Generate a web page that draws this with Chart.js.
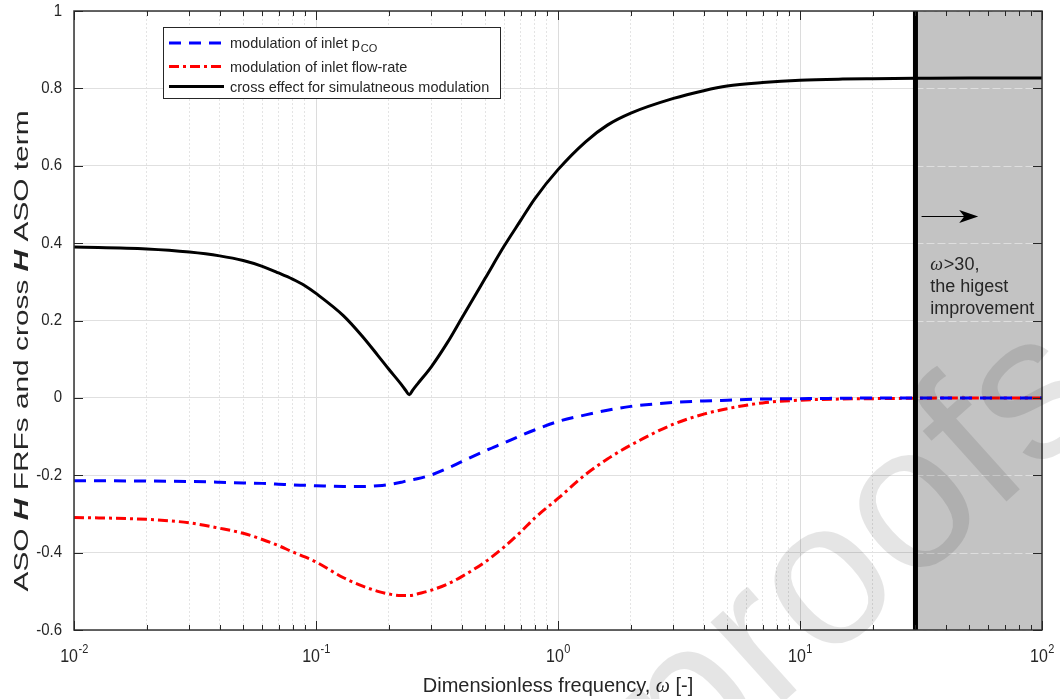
<!DOCTYPE html>
<html>
<head>
<meta charset="utf-8">
<script src="https://cdn.jsdelivr.net/npm/chart.js@4.4.1/dist/chart.umd.min.js"></script>
<style>
  html, body { margin: 0; padding: 0; background: #fff; }
  #wrap { width: 1060px; height: 699px; }
</style>
</head>
<body>
<div id="wrap"><canvas id="chart" width="1060" height="699"></canvas></div>
<script>
// dimensionless frequency (x values shared by the three curves)
const omega = [0.01, 0.02, 0.03, 0.04, 0.05, 0.06, 0.07, 0.08, 0.09, 0.1,
  0.13, 0.155, 0.18, 0.2, 0.225, 0.235, 0.243, 0.251, 0.262, 0.3,
  0.35, 0.4, 0.5, 0.6, 0.7, 0.8, 1, 1.3, 1.6, 2,
  3, 4, 5, 7, 10, 15, 20, 30, 50, 100]

// modulation of inlet pCO
const pcoVals = [-0.214, -0.215, -0.216, -0.218, -0.220, -0.221, -0.223, -0.225, -0.226, -0.227,
  -0.229, -0.229, -0.227, -0.224, -0.218, -0.215, -0.213, -0.211, -0.209, -0.199,
  -0.182, -0.165, -0.137, -0.116, -0.098, -0.083, -0.061, -0.044, -0.032, -0.022,
  -0.012, -0.008, -0.006, -0.003, -0.002, -0.001, 0, 0, 0, 0]

// modulation of inlet flow-rate
const flowVals = [-0.309, -0.314, -0.323, -0.337, -0.350, -0.366, -0.382, -0.398, -0.411, -0.424,
  -0.465, -0.486, -0.500, -0.507, -0.511, -0.511, -0.511, -0.510, -0.507, -0.497,
  -0.481, -0.462, -0.424, -0.385, -0.347, -0.311, -0.260, -0.198, -0.158, -0.122,
  -0.068, -0.042, -0.028, -0.013, -0.006, -0.003, -0.002, -0.001, 0, 0]

// cross effect for simultaneous modulation
const crossVals = [0.390, 0.385, 0.377, 0.367, 0.355, 0.340, 0.323, 0.307, 0.290, 0.270,
  0.212, 0.160, 0.110, 0.074, 0.035, 0.019, 0.008, 0.020, 0.035, 0.081,
  0.144, 0.206, 0.309, 0.393, 0.458, 0.514, 0.590, 0.662, 0.705, 0.736,
  0.774, 0.794, 0.806, 0.815, 0.821, 0.824, 0.825, 0.826, 0.827, 0.827]

const xDecades = [0.01, 0.1, 1, 10, 100]
const xExponents = ['-2', '-1', '0', '1', '2']
const yTicks = [1, 0.8, 0.6, 0.4, 0.2, 0, -0.2, -0.4, -0.6]
const yTickLabels = ['1', '0.8', '0.6', '0.4', '0.2', '0', '-0.2', '-0.4', '-0.6']
const legendLabels = [['modulation of inlet p', 'CO'], ['modulation of inlet flow-rate', ''], ['cross effect for simulatneous modulation', '']]
const cutoff = 30
const noteLines = ['>30,', 'the higest', 'improvement']
const arrowFrom = [31.8, 0.47]
const arrowTo = [54.5, 0.47]
const noteAt = [34.5, 0.33]

// grid positions 1..9 x 10^n
const xGridTicks = []
xDecades.forEach((d, i) => {
  if (i === xDecades.length - 1) { xGridTicks.push(d); return }
  for (let m = 1; m < 10; m++) xGridTicks.push(+(d * m).toPrecision(3))
})
const isDecade = v => xDecades.includes(v)

const FONT = "'Liberation Sans', Arial, sans-serif"
const TXT = '#262626'
const toPts = vals => omega.map((w, i) => ({ x: w, y: vals[i] }))

const styleLines = [
  { color: '#0000ff', dash: [12, 8] },
  { color: '#ff0000', dash: [10, 4, 3, 4] },
  { color: '#000000', dash: [] }
]

const frame = {
  id: 'frame',
  afterDatasetDraw(chart, args) {
    if (args.index !== 4) return
    // grid showing through the shaded band
    const { ctx, chartArea, scales: { x, y } } = chart
    const left = x.getPixelForValue(cutoff)
    ctx.save()
    ctx.strokeStyle = 'rgba(255,255,255,0.45)'
    ctx.lineWidth = 1
    ctx.setLineDash([8, 3])
    yTicks.forEach(v => {
      const py = Math.round(y.getPixelForValue(v)) + 0.5
      ctx.beginPath(); ctx.moveTo(left, py); ctx.lineTo(chartArea.right, py); ctx.stroke()
    })
    ctx.restore()
  },
  afterDraw(chart) {
    const { ctx, chartArea: a, scales: { x, y } } = chart
    ctx.save()

    // axes box
    ctx.strokeStyle = '#333'
    ctx.lineWidth = 1.5
    ctx.strokeRect(a.left, a.top, a.right - a.left, a.bottom - a.top)

    // inward ticks
    ctx.lineWidth = 1
    ctx.strokeStyle = '#262626'
    xGridTicks.forEach(v => {
      const px = Math.round(x.getPixelForValue(v)) + 0.5
      const len = isDecade(v) ? 9 : 5
      ctx.beginPath()
      ctx.moveTo(px, a.bottom); ctx.lineTo(px, a.bottom - len)
      ctx.moveTo(px, a.top); ctx.lineTo(px, a.top + len)
      ctx.stroke()
    })
    yTicks.forEach(v => {
      const py = Math.round(y.getPixelForValue(v)) + 0.5
      ctx.beginPath()
      ctx.moveTo(a.left, py); ctx.lineTo(a.left + 9, py)
      ctx.moveTo(a.right, py); ctx.lineTo(a.right - 9, py)
      ctx.stroke()
    })

    ctx.fillStyle = TXT
    // x tick labels 10^n
    ctx.textAlign = 'left'
    ctx.textBaseline = 'alphabetic'
    xDecades.forEach((v, i) => {
      const px = x.getPixelForValue(v)
      ctx.font = '16px ' + FONT
      const wb = ctx.measureText('10').width
      ctx.font = '11px ' + FONT
      const ws = ctx.measureText(xExponents[i]).width
      const sx = px - (wb + ws) / 2
      ctx.save()
      ctx.translate(sx, 662)
      ctx.scale(1, 1.15)
      ctx.font = '16px ' + FONT
      ctx.fillText('10', 0, 0)
      ctx.font = '11px ' + FONT
      ctx.fillText(xExponents[i], wb + 0.5, -8)
      ctx.restore()
    })

    // y tick labels
    ctx.font = '15px ' + FONT
    ctx.textAlign = 'right'
    ctx.textBaseline = 'middle'
    yTicks.forEach((v, i) => {
      ctx.save()
      ctx.translate(a.left - 12, y.getPixelForValue(v))
      ctx.scale(1, 1.1)
      ctx.fillText(yTickLabels[i], 0, 0)
      ctx.restore()
    })

    // x title
    const xParts = [['Dimensionless frequency, ', '20px ' + FONT], ['\u03c9', 'italic 20px "Liberation Serif", serif'], [' [-]', '20px ' + FONT]]
    let tw = 0
    xParts.forEach(p => { ctx.font = p[1]; tw += ctx.measureText(p[0]).width })
    let cx = (a.left + a.right) / 2 - tw / 2
    ctx.textAlign = 'left'
    ctx.textBaseline = 'alphabetic'
    xParts.forEach(p => { ctx.font = p[1]; ctx.fillText(p[0], cx, 692); cx += ctx.measureText(p[0]).width })

    // y title, stretched along its length like the original
    const yParts = [['ASO ', '20px ' + FONT], ['H', 'italic bold 20px ' + FONT], [' FRFs and cross ', '20px ' + FONT], ['H', 'italic bold 20px ' + FONT], [' ASO term', '20px ' + FONT]]
    tw = 0
    yParts.forEach(p => { ctx.font = p[1]; tw += ctx.measureText(p[0]).width })
    ctx.save()
    ctx.translate(28, 351)
    ctx.rotate(-Math.PI / 2)
    ctx.scale(481 / tw, 1)
    cx = -tw / 2
    yParts.forEach(p => { ctx.font = p[1]; ctx.fillText(p[0], cx, 0); cx += ctx.measureText(p[0]).width })
    ctx.restore()

    // legend
    const lg = { l: 163, t: 27, w: 337, h: 71 }
    const rowsY = [43, 66.5, 86.5]
    ctx.fillStyle = '#fff'
    ctx.fillRect(lg.l, lg.t, lg.w, lg.h)
    ctx.strokeStyle = '#262626'
    ctx.lineWidth = 1
    ctx.strokeRect(lg.l + 0.5, lg.t + 0.5, lg.w, lg.h)
    legendLabels.forEach((lab, i) => {
      ctx.strokeStyle = styleLines[i].color
      ctx.lineWidth = 3
      ctx.setLineDash(styleLines[i].dash)
      ctx.beginPath(); ctx.moveTo(169, rowsY[i]); ctx.lineTo(224, rowsY[i]); ctx.stroke()
      ctx.setLineDash([])
      ctx.fillStyle = TXT
      ctx.font = '14.5px ' + FONT
      ctx.textAlign = 'left'
      ctx.textBaseline = 'alphabetic'
      ctx.fillText(lab[0], 230, rowsY[i] + 5)
      if (lab[1]) {
        const w0 = ctx.measureText(lab[0]).width
        ctx.font = '11px ' + FONT
        ctx.fillText(lab[1], 230 + w0 + 1, rowsY[i] + 9)
      }
    })

    // arrow into the shaded band
    const ax0 = x.getPixelForValue(arrowFrom[0]), ax1 = x.getPixelForValue(arrowTo[0])
    const ay = Math.round(y.getPixelForValue(arrowFrom[1])) + 0.5
    ctx.strokeStyle = '#000'
    ctx.fillStyle = '#000'
    ctx.lineWidth = 1.2
    ctx.beginPath(); ctx.moveTo(ax0, ay); ctx.lineTo(ax1 - 12, ay); ctx.stroke()
    ctx.beginPath()
    ctx.moveTo(ax1, ay); ctx.lineTo(ax1 - 19, ay - 6.5); ctx.lineTo(ax1 - 14, ay); ctx.lineTo(ax1 - 19, ay + 6.5)
    ctx.closePath(); ctx.fill()

    // note text
    const nx = x.getPixelForValue(noteAt[0]), ny = y.getPixelForValue(noteAt[1])
    ctx.fillStyle = TXT
    ctx.textAlign = 'left'
    ctx.font = 'italic 18px "Liberation Serif", serif'
    ctx.fillText('\u03c9', nx, ny)
    const wo = ctx.measureText('\u03c9').width
    ctx.font = '18px ' + FONT
    ctx.fillText(noteLines[0], nx + wo + 1, ny)
    ctx.fillText(noteLines[1], nx, ny + 22)
    ctx.fillText(noteLines[2], nx, ny + 44)

    // watermark
    ctx.font = '205px ' + FONT
    const off = ctx.measureText('pro').width + ctx.measureText('o').width / 2
    ctx.translate(915, 512)
    ctx.rotate(-42 * Math.PI / 180)
    ctx.fillStyle = 'rgba(0,0,0,0.1)'
    ctx.fillText('proofs', -off, 0.26 * 205)
    ctx.restore()
  }
}

const chart = new Chart(document.getElementById('chart'), {
  type: 'line',
  data: {
    datasets: [
      { label: 'pco', data: toPts(pcoVals), borderColor: styleLines[0].color, borderDash: styleLines[0].dash, borderWidth: 3, order: 2 },
      { label: 'flow', data: toPts(flowVals), borderColor: styleLines[1].color, borderDash: styleLines[1].dash, borderWidth: 3, order: 2 },
      { label: 'cross', data: toPts(crossVals), borderColor: styleLines[2].color, borderWidth: 3, order: 2 },
      { label: 'cutoff', data: [{ x: cutoff, y: -0.6 }, { x: cutoff, y: 1 }], borderColor: '#000', borderWidth: 5, order: 1, cubicInterpolationMode: 'default', tension: 0 },
      { label: 'band', data: [{ x: cutoff, y: 1 }, { x: 100, y: 1 }], borderWidth: 0, borderColor: 'rgba(0,0,0,0)', backgroundColor: '#c3c3c3', fill: 'start', order: 10, tension: 0 }
    ]
  },
  options: {
    responsive: false,
    animation: false,
    devicePixelRatio: 1,
    layout: { padding: { left: 74, right: 18, top: 11, bottom: 69 } },
    elements: {
      point: { radius: 0 },
      line: { cubicInterpolationMode: 'monotone', borderCapStyle: 'butt' }
    },
    plugins: { legend: { display: false }, tooltip: { enabled: false } },
    scales: {
      x: {
        type: 'logarithmic', min: 0.01, max: 100,
        afterBuildTicks: s => { s.ticks = xGridTicks.map(v => ({ value: v, major: isDecade(v) })) },
        ticks: { display: false },
        grid: { drawTicks: false, color: c => c.tick && isDecade(c.tick.value) ? '#dcdcdc' : '#e4e4e4' },
        border: { display: false, dash: c => c.tick && !isDecade(c.tick.value) ? [2, 2] : [] }
      },
      y: {
        type: 'linear', min: -0.6, max: 1,
        ticks: { display: false, stepSize: 0.2 },
        grid: { drawTicks: false, color: '#e0e0e0' },
        border: { display: false }
      }
    }
  },
  plugins: [frame]
})
</script>
</body>
</html>
